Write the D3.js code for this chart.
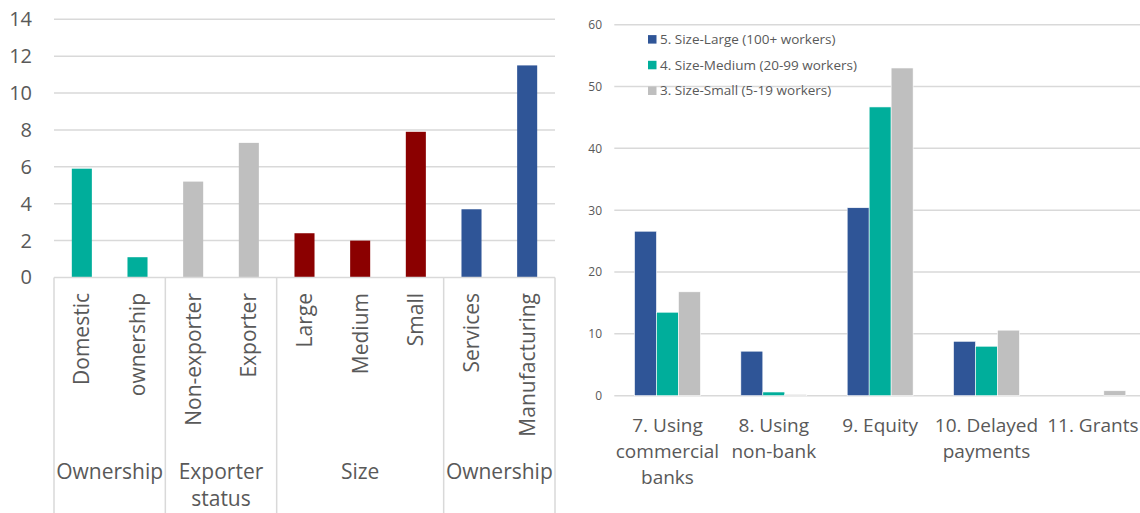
<!DOCTYPE html>
<html>
<head>
<meta charset="utf-8">
<script src="https://cdn.jsdelivr.net/npm/d3@7"></script>
<style>
  html, body { margin: 0; padding: 0; background: #fff; }
  svg { display: block; font-family: "Open Sans", "Noto Sans", sans-serif; }
</style>
</head>
<body>
<svg id="chart" width="1140" height="513"></svg>
<script>
// ---------- Left chart data ----------
const leftCategories = ["Domestic", "ownership", "Non-exporter", "Exporter", "Large", "Medium", "Small", "Services", "Manufacturing"];
const leftValues = [5.9, 1.1, 5.2, 7.3, 2.4, 2.0, 7.9, 3.7, 11.5];
const leftGroupLabels = [["Ownership"], ["Exporter", "status"], ["Size"], ["Ownership"]];
const leftGroupSizes = [2, 2, 3, 2];
const leftTicks = [0, 2, 4, 6, 8, 10, 12, 14];

// ---------- Right chart data ----------
const rightCategories = [["7. Using", "commercial", "banks"], ["8. Using", "non-bank"], ["9. Equity"], ["10. Delayed", "payments"], ["11. Grants"]];
const seriesNames = ["5. Size-Large (100+ workers)", "4. Size-Medium (20-99 workers)", "3. Size-Small (5-19 workers)"];
const seriesLarge = [26.6, 7.2, 30.4, 8.8, 0];
const seriesMedium = [13.5, 0.6, 46.7, 8.0, 0];
const seriesSmall = [16.8, 0.2, 53.0, 10.6, 0.8];
const rightTicks = [0, 10, 20, 30, 40, 50, 60];

// ---------- Styles ----------
const groupColors = ["#00ae9b", "#bfbfbf", "#8b0000", "#2f5597"];
const seriesColors = ["#2f5597", "#00ae9b", "#bfbfbf"];
const textColor = "#595959";
const gridColor = "#d9d9d9";

const svg = d3.select("#chart");

// ================= LEFT CHART =================
(function () {
  const x0 = 54, x1 = 555, yTop = 19.3, yBase = 277.5;
  const g = svg.append("g");
  const x = d3.scaleBand().domain(d3.range(leftCategories.length)).range([x0, x1])
    .paddingInner(0.64).paddingOuter(0.32);
  const y = d3.scaleLinear().domain([0, 14]).range([yBase, yTop]);

  g.append("g").selectAll("line").data(leftTicks.filter(t => t > 0)).join("line")
    .attr("x1", x0).attr("x2", x1)
    .attr("y1", d => y(d)).attr("y2", d => y(d))
    .attr("stroke", gridColor).attr("stroke-width", 1.5);

  const yAxis = d3.axisLeft(y).tickValues(leftTicks).tickSize(0).tickPadding(0);
  const ya = g.append("g").attr("transform", "translate(32,0)").call(yAxis);
  ya.select(".domain").remove();
  ya.selectAll("text").attr("fill", textColor).style("font-size", "20px")
    .style("font-family", "'Open Sans', sans-serif");

  const groupIndex = [];
  leftGroupSizes.forEach((n, gi) => { for (let k = 0; k < n; k++) groupIndex.push(gi); });

  g.append("g").selectAll("rect").data(leftValues).join("rect")
    .attr("x", (d, i) => x(i)).attr("width", x.bandwidth())
    .attr("y", d => y(d)).attr("height", d => yBase - y(d))
    .attr("fill", (d, i) => groupColors[groupIndex[i]]);

  g.append("line").attr("x1", x0).attr("x2", x1).attr("y1", yBase).attr("y2", yBase)
    .attr("stroke", gridColor).attr("stroke-width", 1.5);

  const bounds = [0];
  leftGroupSizes.reduce((acc, n) => { bounds.push(acc + n); return acc + n; }, 0);
  const step = x.step();
  const boundX = b => x0 + b * step;
  g.append("g").selectAll("line").data(bounds).join("line")
    .attr("x1", boundX).attr("x2", boundX)
    .attr("y1", yBase).attr("y2", 513)
    .attr("stroke", gridColor).attr("stroke-width", 1.5);

  g.append("g").selectAll("text").data(leftCategories).join("text")
    .attr("transform", (d, i) => `translate(${x(i) + x.bandwidth() / 2},293) rotate(-90)`)
    .attr("text-anchor", "end").attr("dy", "0.35em")
    .attr("fill", textColor).style("font-size", "21px")
    .text(d => d);

  leftGroupLabels.forEach((lines, gi) => {
    const cx = (boundX(bounds[gi]) + boundX(bounds[gi + 1])) / 2;
    const t = g.append("text").attr("x", cx).attr("y", 479)
      .attr("text-anchor", "middle").attr("fill", textColor).style("font-size", "21px");
    lines.forEach((ln, li) => {
      t.append("tspan").attr("x", cx).attr("dy", li === 0 ? 0 : 27).text(ln);
    });
  });
})();

// ================= RIGHT CHART =================
(function () {
  const x0 = 614.3, x1 = 1146, yTop = 24.7, yBase = 395.7;
  const g = svg.append("g");
  const xc = d3.scaleBand().domain(d3.range(rightCategories.length)).range([x0, x1])
    .paddingInner(0.38).paddingOuter(0.19);
  const xs = d3.scaleBand().domain(d3.range(seriesNames.length)).range([0, xc.bandwidth()]);
  const y = d3.scaleLinear().domain([0, 60]).range([yBase, yTop]);
  const allSeries = [seriesLarge, seriesMedium, seriesSmall];

  g.append("g").selectAll("line").data(rightTicks).join("line")
    .attr("x1", x0).attr("x2", 1140)
    .attr("y1", d => y(d)).attr("y2", d => y(d))
    .attr("stroke", gridColor).attr("stroke-width", 1.5);

  const yAxis = d3.axisLeft(y).tickValues(rightTicks).tickSize(0).tickPadding(0);
  const ya = g.append("g").attr("transform", "translate(602,0)").call(yAxis);
  ya.select(".domain").remove();
  ya.selectAll("text").attr("fill", textColor).style("font-size", "12px")
    .style("font-family", "'Open Sans', sans-serif");

  allSeries.forEach((vals, si) => {
    g.append("g").selectAll("rect").data(vals).join("rect")
      .attr("x", (d, i) => xc(i) + xs(si)).attr("width", xs.bandwidth())
      .attr("y", d => y(d)).attr("height", d => yBase - y(d))
      .attr("fill", seriesColors[si])
      .attr("stroke", "#fff").attr("stroke-width", 0.6);
  });

  rightCategories.forEach((lines, i) => {
    const cx = xc(i) + xc.bandwidth() / 2;
    const t = g.append("text").attr("x", cx).attr("y", 431.5)
      .attr("text-anchor", "middle").attr("fill", textColor).style("font-size", "19px");
    lines.forEach((ln, li) => {
      t.append("tspan").attr("x", cx).attr("dy", li === 0 ? 0 : 26).text(ln);
    });
  });

  const lg = g.append("g");
  seriesNames.forEach((name, si) => {
    const cy = 39.3 + si * 25.7;
    lg.append("rect").attr("x", 648).attr("y", cy - 4.2).attr("width", 8.5).attr("height", 8.5)
      .attr("fill", seriesColors[si]);
    lg.append("text").attr("x", 660).attr("y", cy).attr("dy", "0.35em")
      .attr("fill", textColor).style("font-size", "13.5px").text(name);
  });
})();
</script>
</body>
</html>
